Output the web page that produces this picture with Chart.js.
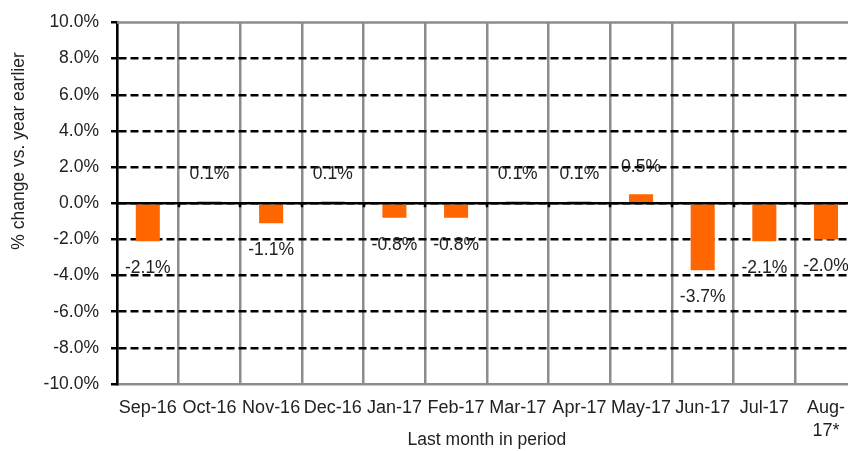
<!DOCTYPE html>
<html>
<head>
<meta charset="utf-8">
<script src="https://cdn.jsdelivr.net/npm/chart.js@4/dist/chart.umd.min.js"></script>
<style>
  html, body { margin: 0; padding: 0; background: #fff; overflow: hidden; }
  #wrap { width: 857px; height: 451px; }
</style>
</head>
<body>
<div id="wrap"><canvas id="chart"></canvas></div>
<script>
// Data
const CATEGORIES = ['Sep-16', 'Oct-16', 'Nov-16', 'Dec-16', 'Jan-17', 'Feb-17',
                    'Mar-17', 'Apr-17', 'May-17', 'Jun-17', 'Jul-17', ['Aug-', '17*']];
const VALUES = [-2.1, 0.1, -1.1, 0.1, -0.8, -0.8, 0.1, 0.1, 0.5, -3.7, -2.1, -2.0];
const Y_MIN = -10;
const Y_MAX = 10;
const Y_STEP = 2;
const Y_TITLE = '% change vs. year earlier';
const X_TITLE = 'Last month in period';

const FONT = '"Liberation Sans", Arial, sans-serif';
const BAR_COLOR = '#FF6600';
const GREY = '#8c8c8c';

// frame lines, zero line and value labels
const decorations = {
    id: 'decorations',
    afterDatasetsDraw(chart) {
        const ctx = chart.ctx;
        const area = chart.chartArea;
        const y = chart.scales.y;
        ctx.save();

        // top border in grey
        ctx.strokeStyle = GREY;
        ctx.lineWidth = 2.5;
        ctx.beginPath();
        ctx.moveTo(area.left, y.getPixelForValue(Y_MAX));
        ctx.lineTo(area.right, y.getPixelForValue(Y_MAX));
        ctx.stroke();

        // zero line with small ticks at category edges
        const y0 = y.getPixelForValue(0);
        ctx.strokeStyle = '#000';
        ctx.beginPath();
        ctx.moveTo(area.left, y0);
        ctx.lineTo(area.right, y0);
        const step = (area.right - area.left) / CATEGORIES.length;
        for (let i = 1; i < CATEGORIES.length; i++) {
            const px = Math.round(area.left + i * step);
            ctx.moveTo(px, y0);
            ctx.lineTo(px, y0 + 4);
        }
        ctx.stroke();

        // value labels
        ctx.fillStyle = '#222';
        ctx.font = '17.5px ' + FONT;
        ctx.textAlign = 'center';
        ctx.textBaseline = 'middle';
        chart.getDatasetMeta(0).data.forEach((bar, i) => {
            const v = VALUES[i];
            const ty = v < 0 ? bar.y + 27 : bar.y - 27;
            ctx.fillText(v.toFixed(1) + '%', bar.x, ty);
        });

        // rotated y title
        ctx.translate(19, 151);
        ctx.rotate(-Math.PI / 2);
        ctx.font = '17.5px ' + FONT;
        ctx.fillText(Y_TITLE, 0, 0);
        ctx.restore();
    }
};

new Chart(document.getElementById('chart'), {
    type: 'bar',
    data: {
        labels: CATEGORIES,
        datasets: [{
            data: VALUES,
            backgroundColor: BAR_COLOR,
            borderWidth: 0,
            categoryPercentage: 1,
            barPercentage: 0.39
        }]
    },
    options: {
        responsive: true,
        maintainAspectRatio: false,
        animation: false,
        layout: { padding: { top: 19, left: 0, right: 0, bottom: 0 } },
        plugins: {
            legend: { display: false },
            tooltip: { enabled: false }
        },
        scales: {
            x: {
                grid: { color: GREY, lineWidth: 2.5, drawTicks: false, offset: true },
                border: { color: GREY, width: 2.5 },
                ticks: {
                    color: '#222',
                    padding: 12,
                    maxRotation: 0,
                    autoSkip: false,
                    font: { family: FONT, size: 18, lineHeight: 1.3 }
                },
                title: {
                    display: true,
                    text: X_TITLE,
                    color: '#222',
                    font: { family: FONT, size: 17.5 },
                    padding: { top: 0, bottom: 0 }
                },
                afterFit: s => { s.height = 67; }
            },
            y: {
                min: Y_MIN,
                max: Y_MAX,
                grid: {
                    color: c => (c.tick && Math.abs(c.tick.value) === Y_MAX) ? 'rgba(0,0,0,0)' : '#000',
                    tickColor: '#000',
                    lineWidth: 2.5,
                    tickLength: 6
                },
                border: { color: '#000', width: 2.5, dash: [8, 4] },
                ticks: {
                    stepSize: Y_STEP,
                    color: '#222',
                    padding: 12,
                    font: { family: FONT, size: 17.5 },
                    callback: v => v.toFixed(1) + '%'
                },
                afterFit: s => { s.width = 117; }
            }
        }
    },
    plugins: [decorations]
});
</script>
</body>
</html>
